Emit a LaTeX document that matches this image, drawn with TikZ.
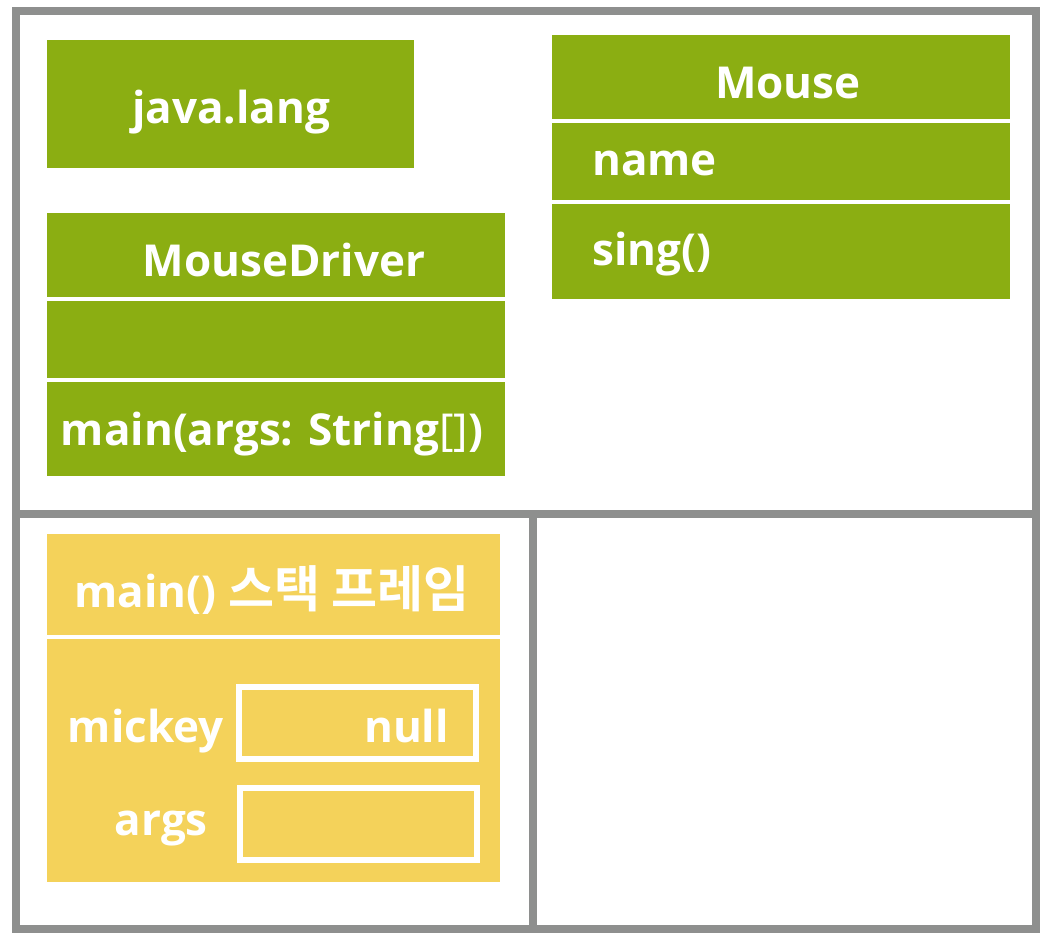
\documentclass[tikz,border=0pt]{standalone}
\usepackage{fontspec}
\setmainfont{Open Sans}
\newfontfamily\kr{Noto Sans CJK KR}[BoldFont={Noto Sans CJK KR Bold}]
\definecolor{framegray}{HTML}{8E8F8E}
\definecolor{umlgreen}{HTML}{8BAE12}
\definecolor{stackyellow}{HTML}{F4D25A}
\tikzset{
  frameline/.style={draw=framegray, line width=8pt},
  gbox/.style={fill=umlgreen, draw=none, inner sep=0pt, outer sep=0pt, anchor=north west},
  ybox/.style={fill=stackyellow, draw=none, inner sep=0pt, outer sep=0pt, anchor=north west},
  sepline/.style={draw=white, line width=4pt},
  slot/.style={draw=white, line width=6pt, fill=none, inner sep=0pt, outer sep=0pt, anchor=north west},
  lbl/.style={text=white, inner sep=0pt, font=\fontsize{44}{50}\selectfont\bfseries},
}
\begin{document}
\begin{tikzpicture}[x=1pt,y=-1pt]
\useasboundingbox (0,0) rectangle (1053,945);
\fill[white] (0,0) rectangle (1053,945);
% frame
\draw[frameline] (15.5,11) rectangle (1036,929);
\draw[frameline] (15.5,513.5) -- (1036,513.5);
\draw[frameline] (533,513.5) -- (533,929);
% java.lang
\node[gbox, minimum width=367pt, minimum height=128pt] (jl) at (47,40) {};
\node[lbl, anchor=base] (jlt) at (231,123) {java.lang};
% MouseDriver
\node[gbox, minimum width=458pt, minimum height=263pt] (md) at (47,213) {};
\draw[sepline] (47,299) -- (505,299);
\draw[sepline] (47,380) -- (505,380);
\node[lbl, anchor=base] (mdt) at (284,276) {MouseDriver};
\node[lbl, anchor=base] (mdm) at (272,445) {main(args: String{\mdseries[]})};
% Mouse
\node[gbox, minimum width=458pt, minimum height=264pt] (ms) at (552,35) {};
\draw[sepline] (552,121) -- (1010,121);
\draw[sepline] (552,202) -- (1010,202);
\node[lbl, anchor=base] (mst) at (788,98) {Mouse};
\node[lbl, anchor=base west] (msn) at (592,175) {name};
\node[lbl, anchor=base west] (mss) at (592,265) {sing()};
% stack frame
\node[ybox, minimum width=453pt, minimum height=348pt] (sf) at (47,534) {};
\draw[sepline] (47,637) -- (500,637);
\node[lbl, anchor=base] (sft) at (272,607) {main() {\kr\bfseries\fontsize{50}{54}\selectfont 스택 프레임}};
\node[slot, minimum width=237pt, minimum height=72.5pt] (mk) at (239,686.5) {};
\node[slot, minimum width=237pt, minimum height=72pt] (ar) at (240,788) {};
\node[lbl, anchor=base east] (mkt) at (224,742) {mickey};
\node[lbl, anchor=base east] (nul) at (449,742) {null};
\node[lbl, anchor=base east] (art) at (208,835) {args};
\end{tikzpicture}
\end{document}
